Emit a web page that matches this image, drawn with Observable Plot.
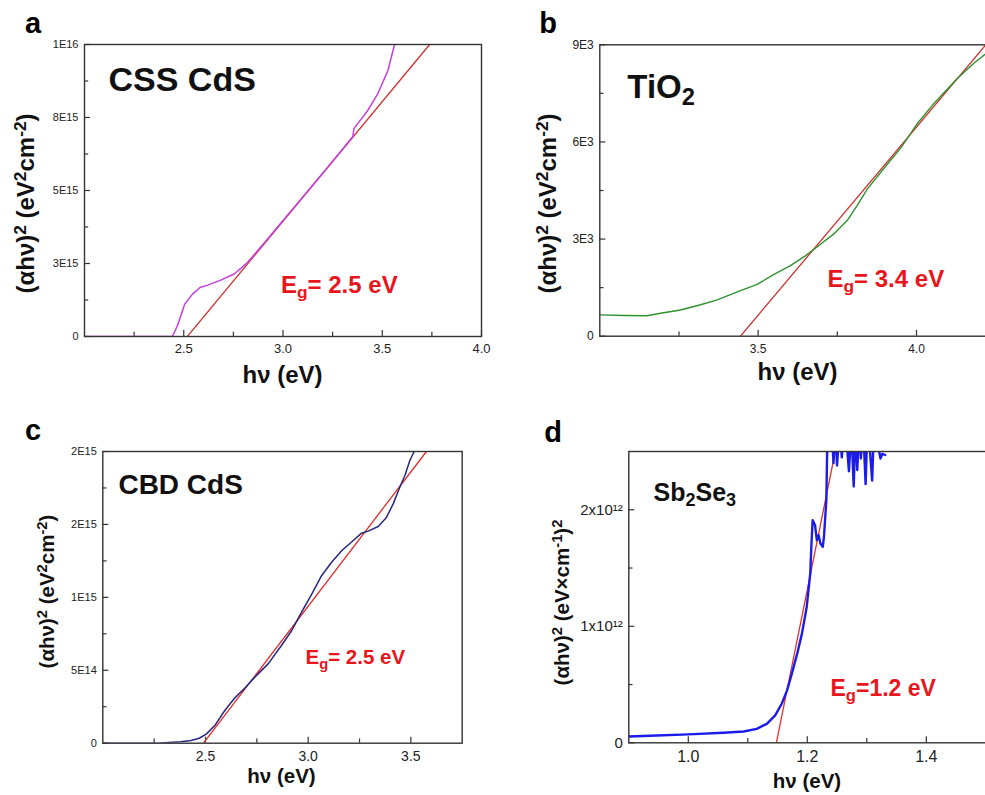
<!DOCTYPE html>
<html>
<head>
<meta charset="utf-8">
<script src="https://cdn.jsdelivr.net/npm/d3@7"></script>
<script src="https://cdn.jsdelivr.net/npm/@observablehq/plot@0.6"></script>
<style>
  html, body { margin: 0; padding: 0; background: #fff; overflow: hidden; }
  #fig { position: relative; width: 985px; height: 795px; overflow: hidden; background: #fff; }
  .panel { position: absolute; }
  .panel svg { max-width: none !important; }
</style>
</head>
<body>
<div id="fig"></div>
<script>
const FONT = "'Liberation Sans', Arial, Helvetica, sans-serif";

// ---------- Panel a: CSS CdS ----------
const aX = [2.0, 2.443, 2.468, 2.505, 2.544, 2.582, 2.62, 2.687, 2.754, 2.822, 2.9, 3.0, 3.1, 3.2, 3.3, 3.352, 3.357, 3.428, 3.478, 3.529, 3.562, 3.58];
const aY = [0, 0, 0.37e15, 1.11e15, 1.45e15, 1.68e15, 1.76e15, 1.93e15, 2.14e15, 2.54e15, 3.16e15, 3.97e15, 4.78e15, 5.59e15, 6.41e15, 6.85e15, 7.12e15, 7.75e15, 8.32e15, 9.12e15, 10.0e15, 10.4e15];
const aFitX = [2.518, 3.739];
const aFitY = [0, 1e16];
const aYTicks = [0, 2.5e15, 5e15, 7.5e15, 1e16];
const aYLabels = ["0", "3E15", "5E15", "8E15", "1E16"];
const aYMinor = [1.25e15, 3.75e15, 6.25e15, 8.75e15];
const aXTicks = [2.5, 3.0, 3.5, 4.0];
const aXLabels = ["2.5", "3.0", "3.5", "4.0"];
const aXMinor = [2.25, 2.75, 3.25, 3.75];

// ---------- Panel b: TiO2 ----------
const bX = [3.0, 3.076, 3.149, 3.192, 3.255, 3.318, 3.371, 3.434, 3.497, 3.55, 3.602, 3.65, 3.692, 3.739, 3.781, 3.813, 3.845, 3.9, 3.95, 4.002, 4.05, 4.128, 4.18, 4.218, 4.26];
const bY = [660, 640, 630, 710, 810, 970, 1120, 1370, 1600, 1910, 2180, 2490, 2800, 3160, 3570, 4040, 4550, 5220, 5810, 6560, 7130, 7950, 8420, 8720, 9050];
const bFitX = [3.444, 4.219];
const bFitY = [0, 9000];
const bYTicks = [0, 3000, 6000, 9000];
const bYLabels = ["0", "3E3", "6E3", "9E3"];
const bYMinor = [1500, 4500, 7500];
const bXTicks = [3.5, 4.0];
const bXLabels = ["3.5", "4.0"];
const bXMinor = [3.25, 3.75, 4.25];

// ---------- Panel c: CBD CdS ----------
const cX = [2.0, 2.15, 2.28, 2.38, 2.43, 2.47, 2.505, 2.545, 2.594, 2.643, 2.692, 2.74, 2.805, 2.87, 2.92, 2.968, 3.018, 3.066, 3.114, 3.164, 3.21, 3.26, 3.292, 3.341, 3.38, 3.414, 3.446, 3.471, 3.495, 3.516];
const cY = [0, 0, 0.002e15, 0.01e15, 0.018e15, 0.034e15, 0.064e15, 0.121e15, 0.224e15, 0.311e15, 0.379e15, 0.453e15, 0.544e15, 0.67e15, 0.773e15, 0.898e15, 1.024e15, 1.15e15, 1.241e15, 1.321e15, 1.378e15, 1.44e15, 1.454e15, 1.486e15, 1.545e15, 1.641e15, 1.755e15, 1.835e15, 1.938e15, 2.0e15];
const cFitX = [2.49, 3.576];
const cFitY = [0, 2e15];
const cYTicks = [0, 5e14, 1e15, 1.5e15, 2e15];
const cYLabels = ["0", "5E14", "1E15", "2E15", "2E15"];
const cYMinor = [2.5e14, 7.5e14, 1.25e15, 1.75e15];
const cXTicks = [2.5, 3.0, 3.5];
const cXLabels = ["2.5", "3.0", "3.5"];
const cXMinor = [2.25, 2.75, 3.25];

// ---------- Panel d: Sb2Se3 ----------
const dX = [0.9, 0.947, 1.0, 1.059, 1.093, 1.115, 1.132, 1.146, 1.157, 1.166, 1.174, 1.183, 1.191, 1.199, 1.205, 1.207, 1.209, 1.213, 1.216, 1.219, 1.222, 1.226, 1.228, 1.232, 1.234, 1.238, 1.241, 1.244, 1.247, 1.250, 1.254, 1.258, 1.262, 1.266, 1.270, 1.274, 1.278, 1.281, 1.284, 1.287, 1.290, 1.294, 1.298, 1.301, 1.304, 1.309, 1.312, 1.317, 1.323, 1.326, 1.331];
const dY = [0.054e12, 0.063e12, 0.072e12, 0.086e12, 0.097e12, 0.120e12, 0.163e12, 0.235e12, 0.335e12, 0.450e12, 0.593e12, 0.765e12, 0.937e12, 1.166e12, 1.453e12, 1.711e12, 1.911e12, 1.868e12, 1.739e12, 1.782e12, 1.711e12, 1.682e12, 1.768e12, 2.083e12, 2.7e12, 2.6e12, 2.7e12, 2.40e12, 2.7e12, 2.38e12, 2.7e12, 2.45e12, 2.7e12, 2.6e12, 2.33e12, 2.7e12, 2.20e12, 2.7e12, 2.34e12, 2.7e12, 2.44e12, 2.7e12, 2.22e12, 2.7e12, 2.6e12, 2.25e12, 2.7e12, 2.6e12, 2.44e12, 2.48e12, 2.47e12];
const dFitX = [1.148, 1.247];
const dFitY = [0, 2.5e12];
const dYTicks = [0, 1e12, 2e12];
const dYLabels = ["0", "1x10¹²", "2x10¹²"];
const dYMinor = [0.5e12, 1.5e12];
const dXTicks = [1.0, 1.2, 1.4];
const dXLabels = ["1.0", "1.2", "1.4"];
const dXMinor = [1.1, 1.3];

// ---------- Annotations ----------
const letters = ["a", "b", "c", "d"];
const names = ["CSS CdS", "TiO_{2}", "CBD CdS", "Sb_{2}Se_{3}"];
const gaps = ["E_{g}= 2.5 eV", "E_{g}= 3.4 eV", "E_{g}= 2.5 eV", "E_{g}=1.2 eV"];
const xTitle = "hν (eV)";
const yTitles = ["(αhν)^{2} (eV^{2}cm^{-2})", "(αhν)^{2} (eV^{2}cm^{-2})", "(αhν)^{2} (eV^{2}cm^{-2})", "(αhν)^{2} (eV×cm^{-1})^{2}"];

function rich(sel, str) {
  sel.text(null);
  const parts = str.split(/([_^]\{[^}]*\})/).filter(s => s.length);
  for (const p of parts) {
    if (p.startsWith("_{")) sel.append("tspan").attr("baseline-shift", "-30%").attr("font-size", "72%").text(p.slice(2, -1));
    else if (p.startsWith("^{")) sel.append("tspan").attr("baseline-shift", "45%").attr("font-size", "72%").text(p.slice(2, -1));
    else sel.append("tspan").text(p);
  }
}
function richify(svg) {
  d3.select(svg).selectAll("text").each(function () {
    const t = this.textContent;
    if (/[_^]\{/.test(t)) rich(d3.select(this), t);
  });
}

function panel(cfg) {
  const innerW = cfg.width - cfg.ml - cfg.mr;
  const innerH = cfg.height - cfg.mt - cfg.mb;
  const line = cfg.x.map((x, i) => ({x, y: cfg.y[i]}));
  const fit = cfg.fitX.map((x, i) => ({x, y: cfg.fitY[i]}));
  const svg = Plot.plot({
    width: cfg.width, height: cfg.height,
    marginLeft: cfg.ml, marginRight: cfg.mr, marginTop: cfg.mt, marginBottom: cfg.mb,
    x: {domain: cfg.xDomain},
    y: {domain: cfg.yDomain},
    style: {fontFamily: FONT, color: "#333", background: "transparent", overflow: "visible", maxWidth: "none"},
    marks: [
      Plot.tickY(cfg.yTicks, {y: d => d, insetRight: innerW - cfg.tl, stroke: "#333", strokeWidth: 1.2}),
      Plot.tickY(cfg.yMinor, {y: d => d, insetRight: innerW - cfg.tl * 0.7, stroke: "#333", strokeWidth: 1.2}),
      Plot.tickX(cfg.xTicks, {x: d => d, insetTop: innerH - cfg.tl, stroke: "#333", strokeWidth: 1.2}),
      Plot.tickX(cfg.xMinor, {x: d => d, insetTop: innerH - cfg.tl * 0.7, stroke: "#333", strokeWidth: 1.2}),
      Plot.line(fit, {x: "x", y: "y", stroke: cfg.fitColor, strokeWidth: 1.3, clip: true}),
      Plot.line(line, {x: "x", y: "y", stroke: cfg.color, strokeWidth: cfg.sw, clip: true, curve: "linear"}),
      Plot.text([cfg.name], {x: cfg.namePos[0], y: cfg.namePos[1], text: d => d, textAnchor: "start", lineAnchor: "bottom", fontSize: cfg.nameSize, fontWeight: "bold", fill: "#111"}),
      Plot.text([cfg.gap], {x: cfg.gapPos[0], y: cfg.gapPos[1], text: d => d, textAnchor: "start", lineAnchor: "bottom", fontSize: cfg.gapSize, fontWeight: "bold", fill: "#e8161c"}),
      Plot.frame({stroke: "#333", strokeWidth: 1.4}),
      Plot.axisY({ticks: cfg.yTicks, tickFormat: d => cfg.yLabels[cfg.yTicks.indexOf(d)], tickSize: 0, tickPadding: 6, fontSize: cfg.yFont, label: null, fill: "#222"}),
      Plot.axisX({ticks: cfg.xTicks, tickFormat: d => cfg.xLabels[cfg.xTicks.indexOf(d)], tickSize: 0, tickPadding: cfg.xPad, fontSize: cfg.xFont, label: null, fill: "#222"})
    ]
  });
  svg.style.maxWidth = "none";
  const s = d3.select(svg);
  s.append("text").attr("x", cfg.letter[0]).attr("y", cfg.letter[1])
    .attr("font-size", 29).attr("font-weight", "bold").attr("fill", "#000").attr("font-family", FONT)
    .text(cfg.letterText);
  s.append("text").attr("x", cfg.xt[0]).attr("y", cfg.xt[1]).attr("text-anchor", "middle")
    .attr("font-size", cfg.titleSize).attr("font-weight", "bold").attr("fill", "#111").attr("font-family", FONT)
    .text(xTitle);
  const yt = s.append("text").attr("transform", `translate(${cfg.yt[0]},${cfg.yt[1]}) rotate(-90)`)
    .attr("text-anchor", "middle").attr("dy", "0.35em")
    .attr("font-size", cfg.titleSize).attr("font-weight", "bold").attr("fill", "#111").attr("font-family", FONT);
  rich(yt, cfg.yTitle);
  richify(svg);
  const div = document.createElement("div");
  div.className = "panel";
  div.style.left = cfg.left + "px";
  div.style.top = cfg.top + "px";
  div.style.width = cfg.width + "px";
  div.style.height = cfg.height + "px";
  div.appendChild(svg);
  document.getElementById("fig").appendChild(div);
}

panel({
  left: 0, top: 0, width: 490, height: 400, ml: 84, mr: 9, mt: 44, mb: 64,
  xDomain: [2.0, 4.0], yDomain: [0, 1e16],
  x: aX, y: aY, color: "#c43ee0", sw: 1.5, fitX: aFitX, fitY: aFitY, fitColor: "#d03030",
  yTicks: aYTicks, yLabels: aYLabels, yMinor: aYMinor, xTicks: aXTicks, xLabels: aXLabels, xMinor: aXMinor,
  tl: 6, yFont: 11, xFont: 13, xPad: 7,
  name: names[0], namePos: [2.121, 8.40e15], nameSize: 34,
  gap: gaps[0], gapPos: [2.99, 1.49e15], gapSize: 24,
  letter: [33, 33], letterText: letters[0], xt: [282.5, 383], yt: [26, 203.5], titleSize: 24, yTitle: yTitles[0]
});

panel({
  left: 490, top: 0, width: 531, height: 400, ml: 109.3, mr: 10, mt: 44.3, mb: 64.3,
  xDomain: [3.0, 4.3], yDomain: [0, 9000],
  x: bX, y: bY, color: "#2e922e", sw: 1.4, fitX: bFitX, fitY: bFitY, fitColor: "#d03030",
  yTicks: bYTicks, yLabels: bYLabels, yMinor: bYMinor, xTicks: bXTicks, xLabels: bXLabels, xMinor: bXMinor,
  tl: 6, yFont: 12, xFont: 12, xPad: 8,
  name: names[1], namePos: [3.087, 7372], nameSize: 33,
  gap: gaps[1], gapPos: [3.719, 1530], gapSize: 24,
  letter: [58, 33], letterText: letters[1], xt: [307.5, 380], yt: [57.5, 203.5], titleSize: 24, yTitle: yTitles[1]
});

panel({
  left: 0, top: 400, width: 490, height: 395, ml: 102.3, mr: 28.3, mt: 51, mb: 52.3,
  xDomain: [2.0, 3.75], yDomain: [0, 2e15],
  x: cX, y: cY, color: "#27277f", sw: 1.5, fitX: cFitX, fitY: cFitY, fitColor: "#e42a2a",
  yTicks: cYTicks, yLabels: cYLabels, yMinor: cYMinor, xTicks: cXTicks, xLabels: cXLabels, xMinor: cXMinor,
  tl: 6, yFont: 11, xFont: 14, xPad: 8,
  name: names[2], namePos: [2.076, 1.712e15], nameSize: 28,
  gap: gaps[2], gapPos: [2.987, 0.545e15], gapSize: 20.5,
  letter: [33, 40], letterText: letters[2], xt: [281.5, 383], yt: [47, 191.5], titleSize: 20.5, yTitle: yTitles[2]
});

panel({
  left: 490, top: 400, width: 510, height: 395, ml: 138.3, mr: 14.7, mt: 51, mb: 52.7,
  xDomain: [0.9, 1.5], yDomain: [0, 2.5e12],
  x: dX, y: dY, color: "#1c1ce8", sw: 2.4, fitX: dFitX, fitY: dFitY, fitColor: "#e03030",
  yTicks: dYTicks, yLabels: dYLabels, yMinor: dYMinor, xTicks: dXTicks, xLabels: dXLabels, xMinor: dXMinor,
  tl: 6, yFont: 15, xFont: 16, xPad: 8,
  name: names[3], namePos: [0.9415, 2.076e12], nameSize: 25,
  gap: gaps[3], gapPos: [1.239, 0.40e12], gapSize: 23,
  letter: [63, 42], letterText: letters[3], xt: [317, 388], yt: [72, 202.5], titleSize: 20.5, yTitle: yTitles[3]
});
</script>
</body>
</html>
